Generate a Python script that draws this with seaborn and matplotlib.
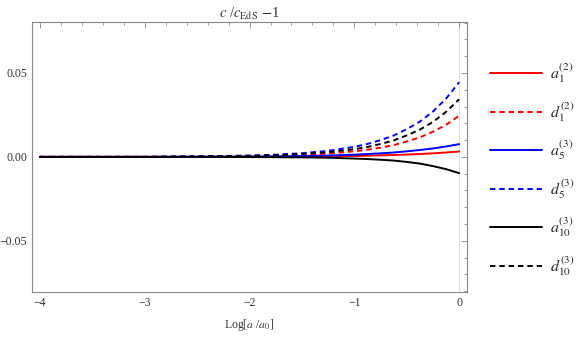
import numpy as np
import pandas as pd
import matplotlib
matplotlib.use("Agg")
import matplotlib.pyplot as plt
import seaborn as sns
from matplotlib.ticker import MultipleLocator, FuncFormatter

# valores
log_a = [-4.0, -3.0, -2.5, -2.0, -1.75, -1.5, -1.25, -1.0, -0.875, -0.75, -0.625,
         -0.5, -0.375, -0.25, -0.125, 0.0]
a1_2 = [0, 0, 0, 0.0001, 0.0001, 0.0002, 0.0003, 0.0005, 0.0007, 0.0009, 0.0011,
        0.0014, 0.0017, 0.0021, 0.0026, 0.0032]
d1_2 = [0, 0, 0.0002, 0.0004, 0.0007, 0.0012, 0.0020, 0.0033, 0.0043, 0.0055, 0.0070,
        0.0092, 0.0116, 0.0150, 0.0191, 0.0245]
a5_3 = [0, 0, 0.0001, 0.0002, 0.0003, 0.0005, 0.0008, 0.0013, 0.0017, 0.0021, 0.0026,
        0.0033, 0.0041, 0.0050, 0.0062, 0.0076]
d5_3 = [0, 0, 0.0003, 0.0008, 0.0013, 0.0022, 0.0036, 0.0060, 0.0077, 0.0100, 0.0127,
        0.0165, 0.0210, 0.0270, 0.0347, 0.0445]
a10_3 = [0, 0, 0, -0.0001, -0.0002, -0.0003, -0.0005, -0.0010, -0.0013, -0.0017, -0.0022,
         -0.0030, -0.0040, -0.0055, -0.0073, -0.0097]
d10_3 = [0, 0, 0.0002, 0.0006, 0.0010, 0.0017, 0.0028, 0.0046, 0.0059, 0.0077, 0.0098,
         0.0128, 0.0162, 0.0208, 0.0268, 0.0343]

series = [
    (r"$a_1^{(2)}$", a1_2, "#ff0000", "-"),
    (r"$d_1^{(2)}$", d1_2, "#ff0000", "--"),
    (r"$a_5^{(3)}$", a5_3, "#0000ff", "-"),
    (r"$d_5^{(3)}$", d5_3, "#0000ff", "--"),
    (r"$a_{10}^{(3)}$", a10_3, "#000000", "-"),
    (r"$d_{10}^{(3)}$", d10_3, "#000000", "--"),
]

sns.set_style("white")
plt.rcParams["font.family"] = ["Liberation Serif", "DejaVu Serif"]
plt.rcParams["mathtext.fontset"] = "stix"

fig = plt.figure(figsize=(5.81, 3.37), dpi=100)
ax = fig.add_axes([0.055, 0.134, 0.749, 0.801])

ax.axvline(0, color="#dddddd", lw=0.8, zorder=0)

for nome, vals, cor, estilo in series:
    df = pd.DataFrame({"x": log_a, "y": vals})
    sns.lineplot(data=df, x="x", y="y", ax=ax, color=cor, lw=1.4,
                 linestyle=estilo, label=nome, legend=False)
    if estilo == "--":
        ax.lines[-1].set_dashes((2.8, 2.0))

ax.set_xlim(-4.076, 0.076)
ax.set_ylim(-0.0804, 0.0804)
ax.xaxis.set_major_locator(MultipleLocator(1))
ax.xaxis.set_minor_locator(MultipleLocator(0.2))
ax.yaxis.set_major_locator(MultipleLocator(0.05))
ax.yaxis.set_minor_locator(MultipleLocator(0.01))
ax.yaxis.set_major_formatter(FuncFormatter(lambda v, p: ("%.2f" % v).replace("-", "\u2212")))
ax.xaxis.set_major_formatter(FuncFormatter(lambda v, p: ("%d" % round(v)).replace("-", "\u2212")))
ax.tick_params(which="both", direction="in", top=True, right=True,
               colors="#888888", labelcolor="#333333", labelsize=8.5, width=0.6)
ax.tick_params(which="major", length=4.5)
ax.tick_params(which="minor", length=2.5)
for s in ax.spines.values():
    s.set_color("#888888")
    s.set_linewidth(0.8)

ax.set_xlabel(r"Log[$a$ /$a_0$]", fontsize=8.5, color="#333333", labelpad=6)
ax.set_ylabel("")
ax.set_title(r"$c$ /$c_{\rm EdS}$ $-$1", fontsize=10.5, color="#333333", pad=3)

fig.legend(loc="upper left", bbox_to_anchor=(0.818, 0.86), frameon=False,
           fontsize=11.5, handlelength=3.3, handletextpad=0.5, labelspacing=0.94)

plt.savefig("out.png", dpi=100)
